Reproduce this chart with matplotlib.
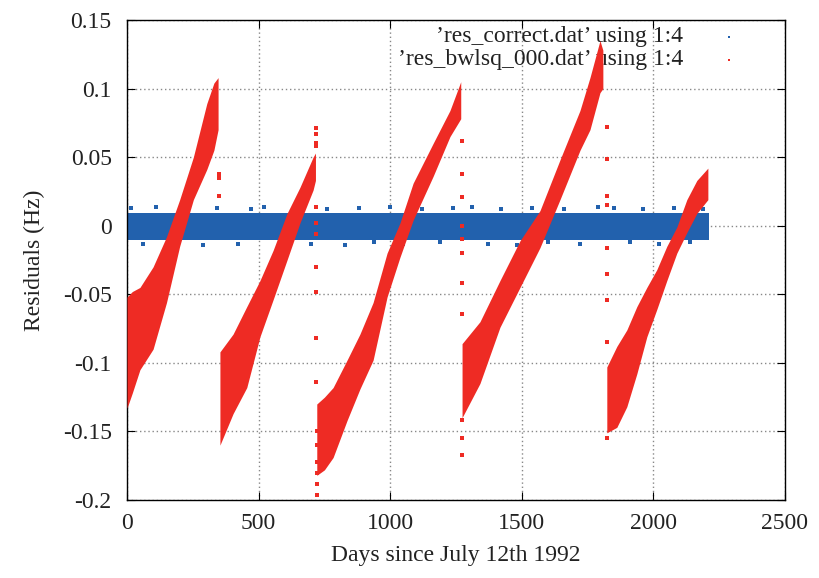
import matplotlib
matplotlib.use("Agg")
import matplotlib.pyplot as plt
import numpy as np

plt.rcParams["font.family"] = ["Liberation Serif", "DejaVu Serif"]
plt.rcParams["axes.unicode_minus"] = False

BLUE = "#2261ad"
RED = "#ee2b24"
FS = 17

# blue residuals: dense band around zero (envelope)
blue_days = [0, 500, 1000, 1500, 2000, 2211]
blue_top = [0.0095, 0.0095, 0.0095, 0.0095, 0.0095, 0.0095]
blue_bot = [-0.0105, -0.0105, -0.0105, -0.0105, -0.0105, -0.0105]
blue_out_days = [15, 60, 110, 170, 230, 290, 340, 420, 470, 520, 590, 640, 700,
                 760, 830, 880, 940, 1000, 1050, 1120, 1190, 1240, 1310, 1370,
                 1420, 1480, 1540, 1600, 1660, 1720, 1790, 1850, 1910, 1960,
                 2020, 2080, 2140, 2190]
blue_out_vals = [0.013, -0.013, 0.014, -0.012, 0.012, -0.014, 0.013, -0.013,
                 0.012, 0.014, -0.012, 0.013, -0.013, 0.012, -0.014, 0.013,
                 -0.012, 0.014, -0.013, 0.012, -0.012, 0.013, 0.014, -0.013,
                 0.012, -0.014, 0.013, -0.012, 0.012, -0.013, 0.014, 0.013,
                 -0.012, 0.012, -0.013, 0.013, -0.012, 0.012]

# red residuals: five drifting segments (upper / lower edge of each cloud)
seg1_days = [0, 20, 49, 99, 150, 200, 252, 303, 330, 346]
seg1_up = [-0.052, -0.048, -0.045, -0.030, -0.008, 0.019, 0.050, 0.089, 0.104, 0.108]
seg1_lo = [-0.133, -0.122, -0.105, -0.090, -0.056, -0.015, 0.019, 0.041, 0.055, 0.070]

seg2_days = [353, 403, 455, 505, 555, 608, 657, 707, 716]
seg2_up = [-0.092, -0.079, -0.059, -0.040, -0.018, 0.009, 0.028, 0.050, 0.053]
seg2_lo = [-0.160, -0.137, -0.118, -0.081, -0.054, -0.025, 0.002, 0.026, 0.033]

seg3_days = [721, 750, 783, 836, 885, 935, 988, 1037, 1087, 1163, 1227, 1268]
seg3_up = [-0.130, -0.125, -0.118, -0.098, -0.079, -0.056, -0.020, 0.002, 0.031, 0.060, 0.084, 0.105]
seg3_lo = [-0.182, -0.178, -0.169, -0.142, -0.119, -0.098, -0.052, -0.023, 0.004, 0.036, 0.065, 0.078]

seg4_days = [1273, 1341, 1417, 1493, 1569, 1645, 1721, 1759, 1797, 1808]
seg4_up = [-0.086, -0.070, -0.040, -0.011, 0.011, 0.048, 0.084, 0.108, 0.135, 0.128]
seg4_lo = [-0.140, -0.115, -0.074, -0.045, -0.016, 0.019, 0.055, 0.070, 0.097, 0.100]

seg5_days = [1823, 1861, 1899, 1937, 1975, 2013, 2051, 2089, 2127, 2165, 2207]
seg5_up = [-0.103, -0.088, -0.076, -0.059, -0.045, -0.032, -0.015, -0.001, 0.019, 0.033, 0.042]
seg5_lo = [-0.151, -0.147, -0.132, -0.108, -0.081, -0.061, -0.040, -0.020, -0.005, 0.009, 0.019]

# isolated red points at the segment jumps
red_out_days = [350, 350, 350,
                717, 717, 717, 717, 717, 717, 717, 717, 717, 717, 717,
                720, 720, 720, 720, 720, 720,
                1271, 1271, 1271, 1271, 1271, 1271, 1271, 1271, 1271, 1271, 1271,
                1824, 1824, 1824, 1824, 1824, 1824, 1824, 1824, 1824]
red_out_vals = [0.038, 0.035, 0.022,
                0.071, 0.067, 0.060, 0.058, 0.014, 0.002, -0.006, -0.030, -0.048, -0.082, -0.114,
                -0.150, -0.160, -0.172, -0.180, -0.188, -0.196,
                0.062, 0.038, 0.021, 0.000, -0.010, -0.020, -0.042, -0.064, -0.142, -0.155, -0.167,
                0.072, 0.049, 0.022, 0.015, -0.016, -0.035, -0.054, -0.085, -0.155]

xticks = [0, 500, 1000, 1500, 2000, 2500]
yticks = [-0.2, -0.15, -0.1, -0.05, 0, 0.05, 0.1, 0.15]
ytick_labels = ["-0.2", "-0.15", "-0.1", "-0.05", "0", "0.05", "0.1", "0.15"]

fig = plt.figure(figsize=(8.2, 5.78), dpi=100)
ax = fig.add_axes([0.1549, 0.1349, 0.8024, 0.8305])

ax.fill_between(blue_days, blue_bot, blue_top, color=BLUE, lw=0, zorder=2)
ax.scatter(blue_out_days, blue_out_vals, s=5, marker="s", color=BLUE, lw=0, zorder=2)

for d, up, lo in [(seg1_days, seg1_up, seg1_lo), (seg2_days, seg2_up, seg2_lo),
                  (seg3_days, seg3_up, seg3_lo), (seg4_days, seg4_up, seg4_lo),
                  (seg5_days, seg5_up, seg5_lo)]:
    ax.fill_between(d, lo, up, color=RED, lw=0, zorder=3)
ax.scatter(red_out_days, red_out_vals, s=5, marker="s", color=RED, lw=0, zorder=3)

ax.set_xlim(0, 2500)
ax.set_ylim(-0.2, 0.15)
ax.set_xticks(xticks)
ax.set_xticklabels([str(t) for t in xticks])
ax.set_yticks(yticks)
ax.set_yticklabels(ytick_labels)
ax.tick_params(direction="in", length=6, width=0.8, top=True, right=True,
               labelsize=FS, colors="black", labelcolor="#222222")
ax.tick_params(axis="x", pad=9)
ax.tick_params(axis="y", pad=11)
ax.grid(True, linestyle=(0, (1, 2)), color="#888888", linewidth=1.0, zorder=1)
ax.set_axisbelow(True)
for sp in ax.spines.values():
    sp.set_linewidth(1.0)

ax.set_xlabel("Days since July 12th 1992", fontsize=FS, labelpad=8, color="#222222")
ax.set_ylabel("Residuals (Hz)", fontsize=FS, labelpad=13, color="#222222")

# gnuplot-style key, drawn under the data
ax.text(0.845, 0.9646, "\u2019res_correct.dat\u2019 using 1:4", transform=ax.transAxes,
        ha="right", va="center", fontsize=FS, color="#222222", zorder=1.5)
ax.text(0.845, 0.9167, "\u2019res_bwlsq_000.dat\u2019 using 1:4", transform=ax.transAxes,
        ha="right", va="center", fontsize=FS, color="#222222", zorder=1.5)
ax.plot([0.915], [0.9646], marker="s", ms=1.8, color=BLUE, mew=0, transform=ax.transAxes)
ax.plot([0.915], [0.9167], marker="s", ms=1.8, color=RED, mew=0, transform=ax.transAxes)

fig.savefig("out.png", dpi=100)
